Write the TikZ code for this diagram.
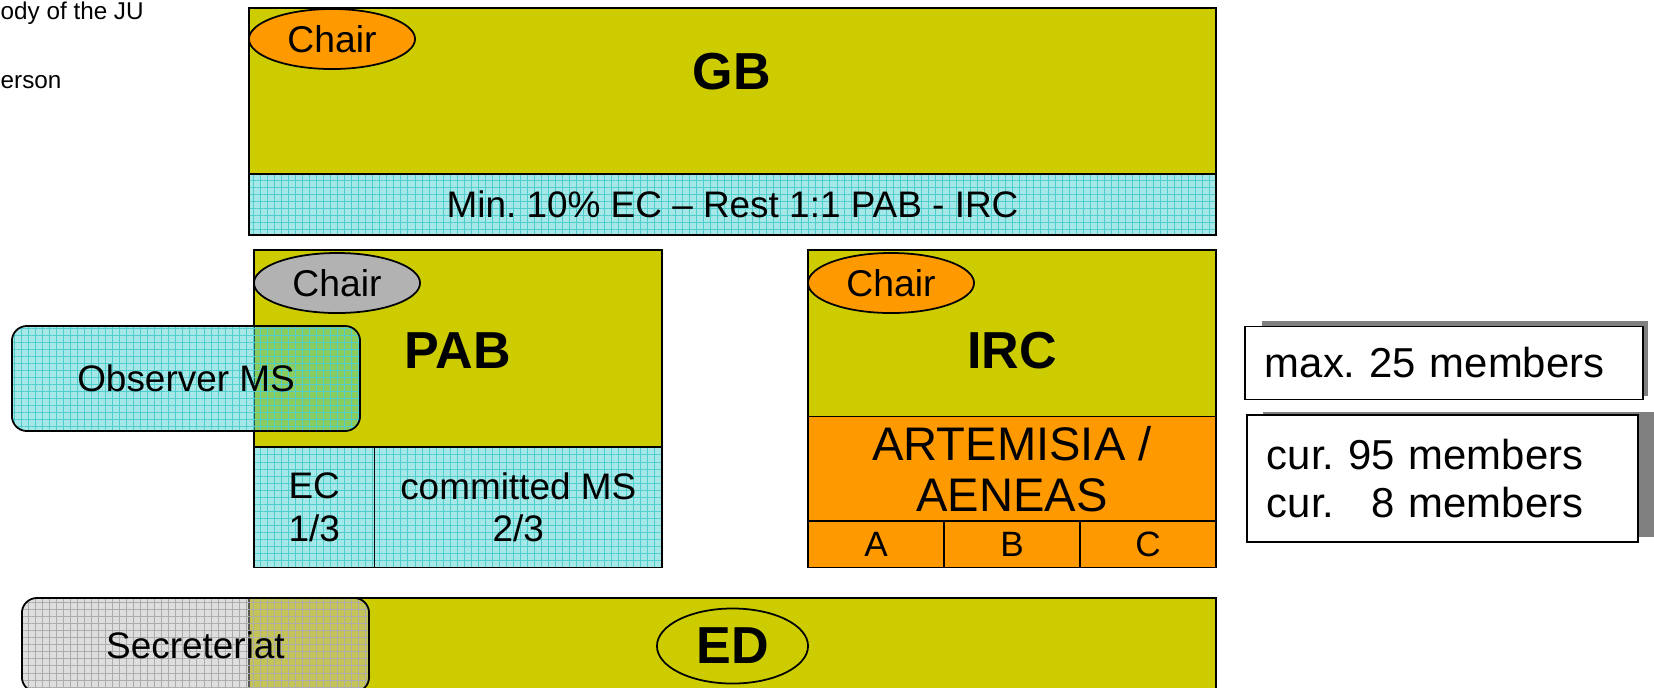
\documentclass[tikz,border=0pt]{standalone}
\usepackage{fontspec}
\setmainfont{Liberation Sans}
\usetikzlibrary{shapes.geometric,patterns.meta}
\frenchspacing

\definecolor{boardyellow}{RGB}{204,204,0}
\definecolor{boardorange}{RGB}{255,153,0}
\definecolor{chairgray}{RGB}{178,178,178}
\definecolor{meshcyan}{RGB}{166,232,232}
\definecolor{meshline}{RGB}{80,205,205}
\definecolor{glasscyan}{RGB}{62,204,204}
\definecolor{glassgray}{RGB}{185,185,185}
\definecolor{secline}{RGB}{172,172,172}
\definecolor{shadowgray}{RGB}{128,128,128}

\begin{document}
\begin{tikzpicture}[x=0.01cm, y=-0.01cm]
		\tikzstyle{all} = [draw, line width=0.5pt, inner sep=0pt]
		\tikzstyle{block} = [rectangle, all, fill=boardyellow]
		\tikzstyle{chair} = [ellipse, all, minimum width=1.66cm, minimum height=0.6cm, font=\fontsize{10.6}{12}\selectfont]
		\tikzstyle{mesh} = [rectangle, all, align=center, preaction={fill=meshcyan}, pattern={Hatch[angle=0, distance=2pt, line width=0.25pt]}, pattern color=meshline]
		\tikzstyle{glass} = [rectangle, all, rounded corners=0.15cm]
		\tikzstyle{title} = [font=\fontsize{14.8}{16}\selectfont\bfseries]
		\tikzstyle{body} = [font=\fontsize{10.5}{12}\selectfont]
		\tikzstyle{count} = [rectangle, all, fill=white, align=left, inner xsep=0.2cm, font=\fontsize{11.9}{13.9}\selectfont]
		\clip (0,0) rectangle (1654,687);
		% cut-off text on the left
		\node[anchor=west, inner sep=0pt, font=\fontsize{6.9}{8}\selectfont] (jutext) at (0,13) {ody of the JU};
		\node[anchor=west, inner sep=0pt, font=\fontsize{6.9}{8}\selectfont] (persontext) at (0,82) {erson};
		% governing board
		\node[block, minimum width=9.67cm, minimum height=1.66cm] (gb) at (732.5,91) {};
		\node[title] (gbname) at (732,72) {GB};
		\node[chair, fill=boardorange] (gbchair) at (332,39) {Chair};
		\node[mesh, body, minimum width=9.67cm, minimum height=0.61cm] (gbmix) at (732.5,204.5) {Min. 10\% EC \textendash{} Rest 1:1 PAB - IRC};
		% public authorities board
		\node[block, minimum width=4.08cm, minimum height=1.97cm] (pab) at (458,348.5) {};
		\node[title] (pabname) at (458,351) {PAB};
		\node[chair, fill=chairgray] (pabchair) at (337,283) {Chair};
		\node[mesh, body, minimum width=1.205cm, minimum height=1.205cm] (pabec) at (314.25,507.25) {EC\\1/3};
		\node[mesh, body, minimum width=2.875cm, minimum height=1.205cm] (pabms) at (518.25,507.25) {committed MS\\2/3};
		\node[glass, body, preaction={fill=glasscyan, fill opacity=0.46}, preaction={pattern={Hatch[angle=0, distance=2pt, line width=0.25pt]}, pattern color=meshline}, minimum width=3.48cm, minimum height=1.05cm] (observer) at (186,378.5) {Observer MS};
		% industry and research committee
		\node[block, minimum width=4.08cm, minimum height=1.666cm] (irc) at (1012,333.3) {};
		\node[title] (ircname) at (1012,351) {IRC};
		\node[chair, fill=boardorange] (ircchair) at (891,283) {Chair};
		\node[rectangle, all, fill=boardorange, align=center, minimum width=4.08cm, minimum height=1.044cm, font=\fontsize{13.4}{14.5}\selectfont] (artemisia) at (1012,468.8) {ARTEMISIA /\\AENEAS};
		\foreach \x/\part in {876/A, 1012/B, 1148/C}
			\node[rectangle, all, fill=boardorange, minimum width=1.36cm, minimum height=0.465cm, font=\fontsize{10}{12}\selectfont] (sub\part) at (\x,544.25) {\part};
		% member counts
		\fill[shadowgray] (1262,320.5) rectangle (1648,395.5);
		\node[count, text width=3.58cm, minimum height=0.73cm] (maxcount) at (1444,363) {max. 25 members};
		\fill[shadowgray] (1263,412) rectangle (1654,537);
		\node[count, text width=3.51cm, minimum height=1.27cm] (curcount) at (1442.5,478.5) {cur. 95 members\\cur. \phantom{9}8 members};
		% executive director
		\node[block, minimum width=9.67cm, minimum height=1.2cm] (ed) at (732.5,658) {};
		\node[ellipse, all, title, minimum width=1.51cm, minimum height=0.75cm] (edname) at (732.5,646) {ED};
		\node[glass, body, preaction={fill=glassgray, fill opacity=0.47}, preaction={pattern={Hatch[angle=0, distance=2pt, line width=0.25pt]}, pattern color=secline}, minimum width=3.47cm, minimum height=0.94cm] (secretariat) at (195.5,645) {Secreteriat};
\end{tikzpicture}
\end{document}
